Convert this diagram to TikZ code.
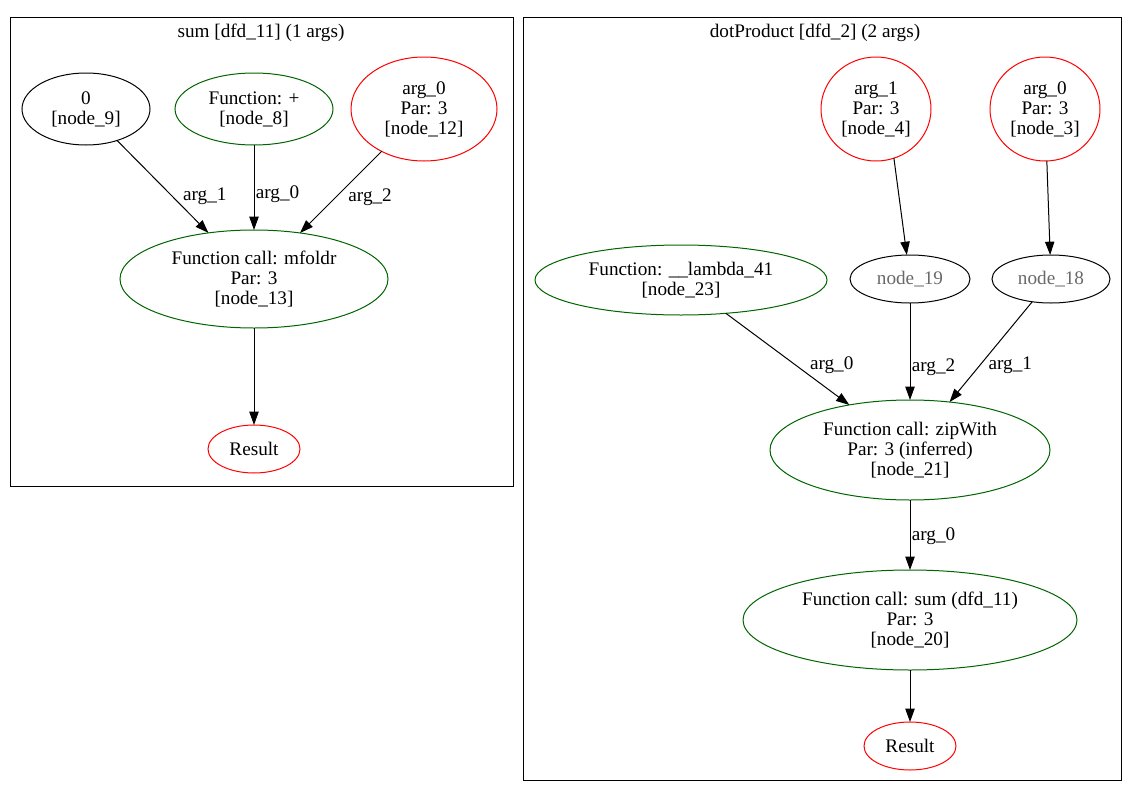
\documentclass[tikz,border=0pt]{standalone}
\usepackage{fontspec}
\setmainfont{Liberation Serif}
\usetikzlibrary{shapes.geometric,arrows.meta}
\definecolor{fgreen}{HTML}{006400}
\definecolor{dimgrey}{HTML}{696969}
\tikzset{
	dfnode/.style={ellipse, draw, line width=0.75pt, inner sep=0pt, outer sep=0pt, align=center},
	sz/.style 2 args={minimum width=#1*0.75pt, minimum height=#2*0.75pt},
	callnode/.style={dfnode, draw=fgreen},
	argnode/.style={dfnode, draw=red},
	litnode/.style={dfnode, draw=black},
	flow/.style={line width=0.75pt, -{Triangle[length=10pt,width=7pt]}},
	lbl/.style={inner sep=0pt, anchor=west},
	cluster/.style={draw, line width=0.75pt}
}
\begin{document}
\begin{tikzpicture}[x=0.75pt, y=-0.75pt, font=\fontsize{14.4}{15}\selectfont]
	\useasboundingbox (0,0) rectangle (1132,796);
%
	\begin{scope}[shift={(10,17)}]
		\draw[cluster] (0,0) rectangle (503,469);
		\node (sumtitle) at (251,16) {sum [dfd\_11] (1 args)};
		\node[litnode, sz={128}{72}] (n9) at (76,92) {0\\{}[node\_9]};
		\node[callnode, sz={158}{72}] (n8) at (244,92) {Function: +\\{}[node\_8]};
		\node[argnode, sz={146}{104}] (n12) at (414,92) {arg\_0\\Par: 3\\{}[node\_12]};
		\node[callnode, sz={268}{98}] (n13) at (244,262) {Function call: mfoldr\\Par: 3\\{}[node\_13]};
		\node[argnode, sz={92}{48}] (resl) at (244,432) {Result};
		\draw[flow] (n9) -- node[lbl, pos=0.6, xshift=8pt] {arg\_1} (n13);
		\draw[flow] (n8) -- node[lbl, pos=0.58, xshift=1pt] {arg\_0} (n13);
		\draw[flow] (n12) -- node[lbl, pos=0.56, xshift=9pt] {arg\_2} (n13);
		\draw[flow] (n13) -- (resl);
	\end{scope}
%
	\begin{scope}[shift={(523,17)}]
		\draw[cluster] (0,0) rectangle (598,763);
		\node (dottitle) at (292,16) {dotProduct [dfd\_2] (2 args)};
		\node[argnode, sz={110}{104}] (n4) at (353,92) {arg\_1\\Par: 3\\{}[node\_4]};
		\node[argnode, sz={110}{104}] (n3) at (522,92) {arg\_0\\Par: 3\\{}[node\_3]};
		\node[callnode, sz={292}{70}] (n23) at (158,263) {Function: \_\_lambda\_41\\{}[node\_23]};
		\node[litnode, sz={120}{48}, text=dimgrey] (n19) at (387,262) {node\_19};
		\node[litnode, sz={118}{48}, text=dimgrey] (n18) at (528,262) {node\_18};
		\node[callnode, sz={280}{100}] (n21) at (387,433) {Function call: zipWith\\Par: 3 (inferred)\\{}[node\_21]};
		\node[callnode, sz={334}{100}] (n20) at (387,603) {Function call: sum (dfd\_11)\\Par: 3\\{}[node\_20]};
		\node[argnode, sz={92}{48}] (resr) at (387,729) {Result};
		\draw[flow] (n4.290) -- (n19);
		\draw[flow] (n3) -- (n18);
		\draw[flow] (n23) -- node[lbl, pos=0.57, xshift=10pt] {arg\_0} (n21);
		\draw[flow] (n19) -- node[lbl, pos=0.66, xshift=1pt] {arg\_2} (n21);
		\draw[flow] (n18) -- node[lbl, pos=0.63, xshift=6pt] {arg\_1} (n21);
		\draw[flow] (n21) -- node[lbl, pos=0.52, xshift=1pt] {arg\_0} (n20);
		\draw[flow] (n20) -- (resr);
	\end{scope}
\end{tikzpicture}
\end{document}
